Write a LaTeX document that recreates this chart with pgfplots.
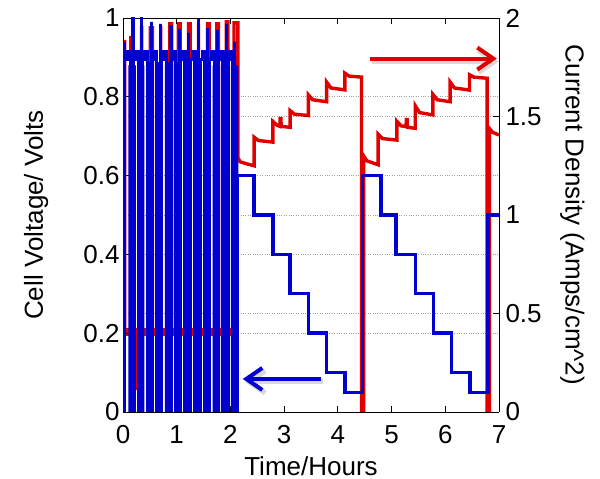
\documentclass[border=0pt]{standalone}
\usepackage{fontspec}
\setmainfont{Liberation Sans}
\usepackage{pgfplots}
\pgfplotsset{compat=1.18}
\usetikzlibrary{arrows.meta}
\definecolor{myblue}{RGB}{0,0,208}
\definecolor{myred}{RGB}{225,0,0}
\begin{document}
\begin{tikzpicture}
\pgfplotsset{
  common/.style={
    scale only axis, width=376pt, height=394pt,
    xmin=0, xmax=7,
    /pgf/number format/assume math mode=true,
    tick label style={font=\fontsize{26}{31}\selectfont},
    label style={font=\fontsize{26}{31}\selectfont},
    major tick length=6pt,
    tick style={black, line width=0.8pt},
    axis line style={line width=0.8pt},
  }
}
% right axis: current density (red)
\begin{axis}[common, name=ra,
  ymin=0, ymax=2,
  axis y line*=right, axis x line=none,
  ytick={0,0.5,1,1.5,2},
  yticklabels={0,0.5,1,1.5,2},
  yticklabel style={xshift=3pt},
  ytick align=inside, ytick pos=right,
  ymajorgrids,
  extra y ticks={0.4,0.8,1.2,1.6},
  extra y tick labels={},
  extra y tick style={grid=major, major tick length=0pt},
  grid style={dotted, gray!75, line width=0.9pt},
  ylabel={Current Density (Amps/cm\textasciicircum 2)},
  ylabel style={rotate=180, at={(axis description cs:1.177,0.5)}, anchor=base},
]
\addplot[myred, line width=8pt, forget plot] coordinates {(0.035,0.404) (2.12,0.404)};
\addplot[myred, line width=3.4pt, mark=none] coordinates {
(0,1.88) (0.03,1.88) (0.03,0.404)
(0.145,0.404) (0.145,1.9) (0.17,1.9) (0.17,0.404)
(0.225,0.404) (0.225,0.12) (0.235,0.12) (0.235,0.404)
(0.348,0.404) (0.348,1.96) (0.348,0.404)
(0.51,0.404) (0.51,1.95) (0.549,1.95) (0.549,0.404)
(0.702,0.404) (0.702,1.96) (0.702,0.404)
(0.87,0.404) (0.87,1.97) (0.904,1.97) (0.904,0.404)
(1.03,0.404) (1.03,1.97) (1.065,1.97) (1.065,0.404)
(1.22,0.404) (1.22,1.97) (1.251,1.97) (1.251,0.404)
(1.406,0.404) (1.406,1.97) (1.406,0.404)
(1.575,0.404) (1.575,1.97) (1.605,1.97) (1.605,0.404)
(1.745,0.404) (1.745,1.97) (1.778,1.97) (1.778,0.404)
(1.925,0.404) (1.925,1.98) (1.952,1.98) (1.952,0.404)
(2.067,0.404) (2.067,1.975) (2.14,1.975) (2.14,1.29)
(2.18,1.27) (2.30,1.26) (2.44,1.25)
(2.44,1.395) (2.52,1.378) (2.79,1.37)
(2.79,1.475) (2.87,1.455) (2.92,1.45) (2.925,1.49) (2.94,1.49) (2.945,1.45) (3.11,1.445)
(3.11,1.53) (3.19,1.512) (3.45,1.505)
(3.45,1.61) (3.53,1.585) (3.79,1.575)
(3.79,1.675) (3.87,1.645) (4.13,1.635)
(4.13,1.72) (4.21,1.705) (4.44,1.70)
(4.44,0) (4.48,0) (4.48,1.30) (4.54,1.275) (4.75,1.255)
(4.75,1.41) (4.83,1.388) (5.10,1.38)
(5.10,1.475) (5.18,1.452) (5.27,1.45) (5.275,1.485) (5.29,1.485) (5.295,1.445) (5.44,1.44)
(5.44,1.555) (5.52,1.52) (5.77,1.508)
(5.77,1.612) (5.85,1.585) (6.09,1.575)
(6.09,1.675) (6.17,1.645) (6.45,1.634)
(6.45,1.712) (6.53,1.70) (6.78,1.694)
(6.78,0) (6.82,0) (6.82,1.44) (6.88,1.42) (7,1.406)
};
\end{axis}
% left axis: cell voltage (blue)
\begin{axis}[common, name=la,
  ymin=0, ymax=1,
  axis y line*=left,
  xtick={0,1,2,3,4,5,6,7},
  ytick={0,0.2,0.4,0.6,0.8,1},
  yticklabels={0,0.2,0.4,0.6,0.8,1},
  xticklabel style={yshift=-10pt},
  tick align=inside,
  xtick pos=both, xticklabel pos=lower,
  ytick pos=left,
  xlabel={Time/Hours},
  xlabel style={at={(axis description cs:0.5,-0.16)}, anchor=base},
  ylabel={Cell Voltage/ Volts},
  ylabel style={at={(axis description cs:-0.2128,0.5)}, anchor=base},
]
% solid columns of the pulsed section
\addplot[ybar, bar width=7.4pt, bar shift=0pt, fill=myblue, draw=none, forget plot] coordinates {
(0.170,0.88) (0.331,0.88) (0.503,0.88) (0.670,0.88) (0.850,0.88) (1.022,0.88)
(1.201,0.88) (1.387,0.88) (1.564,0.88) (1.738,0.88) (1.906,0.88) (2.077,0.88)
};
\addplot[myblue, line width=3.4pt, mark=none] coordinates {
(0,0.935) (0.03,0.935) (0.03,0) (0.03,0.895)
(0.087,0.895) (0.087,0.915) (0.145,0.915)
(0.145,0) (0.170,0) (0.170,0.885) (0.186,0.885) (0.186,1.01) (0.186,0) (0.195,0) (0.195,0.895)
(0.245,0.895) (0.245,0.915) (0.294,0.915)
(0.294,0) (0.331,0) (0.331,0.885) (0.348,0.885) (0.348,1.01) (0.348,0) (0.368,0) (0.368,0.895)
(0.412,0.895) (0.412,0.915) (0.456,0.915)
(0.456,0) (0.503,0) (0.503,0.885) (0.534,0.885) (0.534,0.99) (0.534,0) (0.549,0) (0.549,0.895)
(0.589,0.895) (0.589,0.915) (0.629,0.915)
(0.629,0) (0.670,0) (0.670,0.885) (0.702,0.885) (0.702,0.985) (0.702,0) (0.711,0) (0.711,0.895)
(0.760,0.895) (0.760,0.915) (0.810,0.915)
(0.810,0) (0.850,0) (0.850,0.885) (0.894,0.885) (0.894,0.982) (0.894,0) (0.904,0) (0.904,0.895)
(0.934,0.895) (0.934,0.915) (0.978,0.915)
(0.978,0) (1.022,0) (1.022,0.885) (1.048,0.885) (1.048,0.972) (1.048,0) (1.065,0) (1.065,0.895)
(1.108,0.895) (1.108,0.915) (1.151,0.915)
(1.151,0) (1.201,0) (1.201,0.885) (1.216,0.885) (1.216,0.962) (1.216,0) (1.251,0) (1.251,0.895)
(1.294,0.895) (1.294,0.915) (1.337,0.915)
(1.337,0) (1.387,0) (1.387,0.885) (1.406,0.885) (1.406,0.997) (1.406,0) (1.437,0) (1.437,0.895)
(1.48,0.895) (1.48,0.915) (1.523,0.915)
(1.523,0) (1.55,0) (1.55,0.885) (1.575,0.885) (1.575,0.974) (1.575,0) (1.605,0) (1.605,0.895)
(1.651,0.895) (1.651,0.915) (1.698,0.915)
(1.698,0) (1.738,0) (1.738,0.885) (1.756,0.885) (1.756,0.97) (1.756,0) (1.778,0) (1.778,0.895)
(1.818,0.895) (1.818,0.915) (1.859,0.915)
(1.859,0) (1.906,0) (1.906,0.885) (1.931,0.885) (1.931,0.985) (1.931,0) (1.952,0) (1.952,0.895)
(1.993,0.895) (1.993,0.915) (2.034,0.915)
(2.034,0) (2.080,0) (2.080,0.94) (2.080,0) (2.12,0) (2.12,0.6)
(2.44,0.6) (2.44,0.5) (2.79,0.5) (2.79,0.4) (3.11,0.4) (3.11,0.3) (3.45,0.3) (3.45,0.2)
(3.79,0.2) (3.79,0.1) (4.13,0.1) (4.13,0.05) (4.462,0.05) (4.462,0.6) (4.80,0.6) (4.80,0.5)
(5.08,0.5) (5.08,0.4) (5.44,0.4) (5.44,0.3) (5.78,0.3) (5.78,0.2) (6.12,0.2) (6.12,0.1)
(6.46,0.1) (6.46,0.05) (6.795,0.05) (6.795,0.5) (7,0.5)
};
% arrows
\draw[black, opacity=0.15, line width=5pt, -{Straight Barb[length=16pt,width=22pt]}] ([xshift=2pt,yshift=-3pt]axis cs:4.60,0.897) -- ([xshift=2pt,yshift=-3pt]axis cs:6.96,0.897);
\draw[myred, line width=4pt, -{Straight Barb[length=16pt,width=22pt]}] (axis cs:4.60,0.897) -- (axis cs:6.96,0.897);
\draw[black, opacity=0.15, line width=5pt, -{Straight Barb[length=16pt,width=22pt]}] ([xshift=2pt,yshift=-3pt]axis cs:3.68,0.0838) -- ([xshift=2pt,yshift=-3pt]axis cs:2.23,0.0838);
\draw[myblue, line width=4pt, -{Straight Barb[length=16pt,width=22pt]}] (axis cs:3.68,0.0838) -- (axis cs:2.23,0.0838);
\end{axis}
\pgfresetboundingbox
\path[use as bounding box] ([xshift=-123pt,yshift=-67pt]la.south west) rectangle ([xshift=101pt,yshift=18pt]la.north east);
\end{tikzpicture}
\end{document}
